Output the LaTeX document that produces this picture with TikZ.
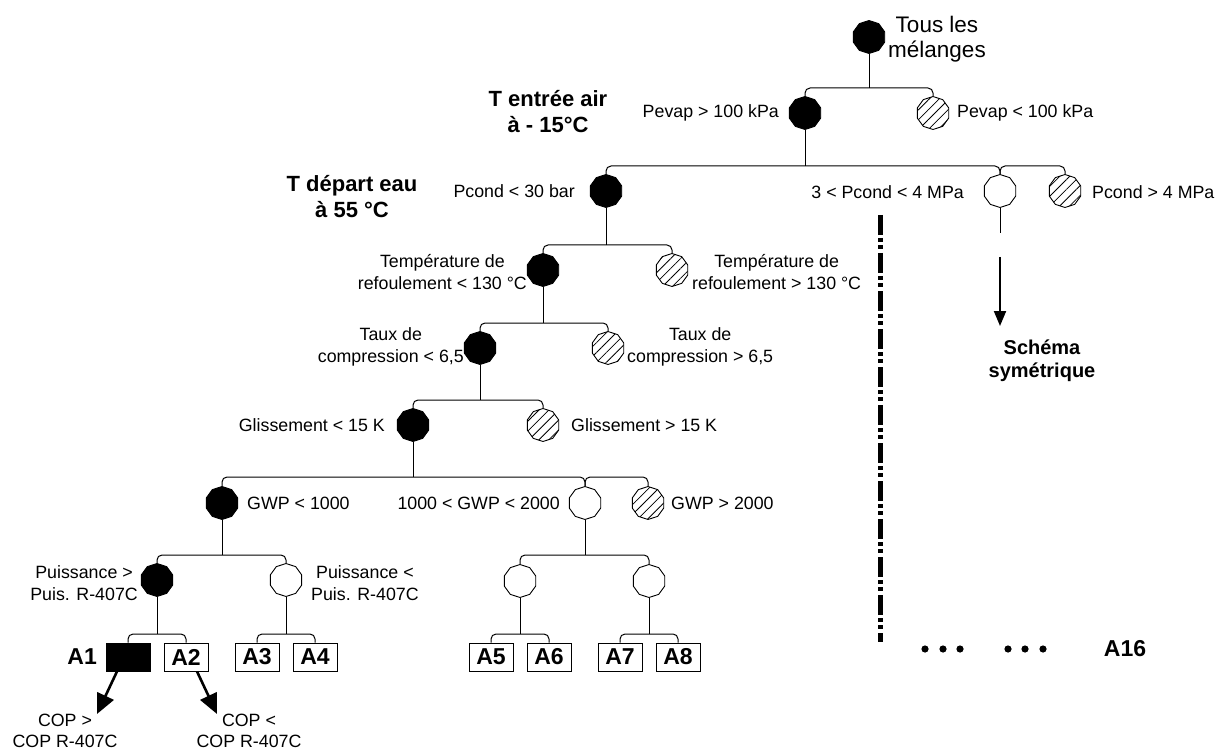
\documentclass[tikz,border=0pt]{standalone}
\usepackage{fontspec}
\setmainfont{Liberation Sans}
\usetikzlibrary{shapes.geometric,patterns.meta,arrows.meta}
\tikzset{
  oct/.style={regular polygon, regular polygon sides=10, shape border rotate=18, minimum size=33pt, inner sep=0pt, draw, line width=0.9pt},
  ok/.style={oct, fill=black},
  ko/.style={oct, pattern={Lines[angle=45,distance=7pt,line width=0.8pt]}},
  emptynode/.style={oct, fill=white},
  lbl/.style={font=\fontsize{17.8}{21.5}\selectfont, align=center, inner sep=0pt},
  big/.style={font=\fontsize{22.5}{25.5}\selectfont, align=center, inner sep=0pt},
  boldlbl/.style={font=\bfseries\fontsize{22}{26}\selectfont, align=center, inner sep=0pt},
  sboldlbl/.style={font=\bfseries\fontsize{20}{23}\selectfont, align=center, inner sep=0pt},
  abox/.style={draw, line width=0.9pt, minimum width=44pt, minimum height=28pt, inner sep=0pt, font=\bfseries\fontsize{23}{27}\selectfont},
  conn/.style={line width=1pt, rounded corners=5pt},
  bigarrow/.style={line width=2.6pt, -{Triangle[length=20pt,width=18pt]}},
}
\begin{document}
\begin{tikzpicture}[x=1pt,y=-1pt]
\fill[white] (0,0) rectangle (1220,751);
\useasboundingbox (0,0) rectangle (1220,751);

% ---- nodes ----
\node[ok] (root) at (869,37) {};
\node[big, anchor=west] (troot) at (888,39) {Tous les\\mélanges};
\node[boldlbl] (tair) at (548,112) {T entrée air\\à - 15°C};
\node[boldlbl] (tdep) at (352,197) {T départ eau\\à 55 °C};

\node[ok] (pg) at (805,113) {};
\node[ko] (pl) at (933,113) {};
\node[lbl, anchor=east] (lpg) at (779,113) {Pevap > 100 kPa};
\node[lbl, anchor=west] (lpl) at (957,113) {Pevap < 100 kPa};

\node[ok] (pa) at (606,191) {};
\node[emptynode] (pm) at (1000,191) {};
\node[ko] (pb) at (1065,191) {};
\node[lbl, anchor=east] (lpa) at (575,191) {Pcond < 30 bar};
\node[lbl, anchor=east] (lpm) at (964,192) {3 < Pcond < 4 MPa};
\node[lbl, anchor=west] (lpb) at (1092,192) {Pcond > 4 MPa};

\node[ok] (ta) at (543,270) {};
\node[ko] (tb) at (672,270) {};
\node[lbl, anchor=east] (lta) at (527,272) {Température de\\refoulement < 130 °C};
\node[lbl, anchor=west] (ltb) at (692,272) {Température de\\refoulement > 130 °C};

\node[ok] (xa) at (480,348) {};
\node[ko] (xb) at (608,348) {};
\node[lbl, anchor=east] (lxa) at (464,347) {Taux de\\compression < 6,5};
\node[lbl, anchor=west] (lxb) at (627,347) {Taux de\\compression > 6,5};

\node[ok] (ga) at (413,425) {};
\node[ko] (gb) at (543,425) {};
\node[lbl, anchor=east] (lga) at (385,425) {Glissement < 15 K};
\node[lbl, anchor=west] (lgb) at (571,425) {Glissement > 15 K};

\node[ok] (wa) at (222,503) {};
\node[emptynode] (wm) at (585,503) {};
\node[ko] (wb) at (648,503) {};
\node[lbl, anchor=west] (lwa) at (247,503) {GWP < 1000};
\node[lbl, anchor=east] (lwm) at (560,503) {1000 < GWP < 2000};
\node[lbl, anchor=west] (lwb) at (671,503) {GWP > 2000};

\node[ok] (ua) at (157,580) {};
\node[emptynode] (ub) at (286,580) {};
\node[emptynode] (ea) at (520,581) {};
\node[emptynode] (eb) at (649,581) {};
\node[lbl, anchor=east] (lua) at (138,583) {Puissance >\\Puis. R-407C};
\node[lbl, anchor=west] (lub) at (311,583) {Puissance <\\Puis. R-407C};

\node[abox, fill=black] (a1) at (128,657) {};
\node[abox] (a2) at (186,657) {A2};
\node[abox] (a3) at (257,657) {A3};
\node[abox] (a4) at (315,657) {A4};
\node[abox] (a5) at (491,657) {A5};
\node[abox] (a6) at (549,657) {A6};
\node[abox] (a7) at (620,657) {A7};
\node[abox] (a8) at (678,657) {A8};
\node[font=\bfseries\fontsize{23}{27}\selectfont, anchor=east, inner sep=0pt] (la1) at (97,657) {A1};

\node[lbl] (cop1) at (65,731) {COP >\\COP R-407C};
\node[lbl] (cop2) at (249,731) {COP <\\COP R-407C};

\node[sboldlbl] (sym) at (1042,361) {Schéma\\symétrique};
\node[font=\bfseries\fontsize{23}{27}\selectfont, inner sep=0pt] (a16) at (1125,649) {A16};

% ---- bar coordinates ----
\coordinate (b0) at (869,88);
\coordinate (b1) at (805,166);
\coordinate (b2) at (606,245);
\coordinate (b3) at (543,323);
\coordinate (b4) at (480,400);
\coordinate (b5) at (413,477);
\coordinate (b6a) at (222,555);
\coordinate (b6b) at (585,555);
\coordinate (b7a) at (157,634);
\coordinate (b7b) at (286,634);
\coordinate (b7c) at (520,634);
\coordinate (b7d) at (649,634);

% ---- connectors ----
\draw[conn] (root.south) -- (b0);
\draw[conn] (pg.north) |- (b0) -| (pl.north);

\draw[conn] (pg.south) -- (b1);
\draw[conn] (pa.north) |- (b1) -| (pm.north);
\draw[conn] (pm.north) |- (pb.north |- b1) -- (pb.north);

\draw[conn] (pa.south) -- (b2);
\draw[conn] (ta.north) |- (b2) -| (tb.north);

\draw[conn] (ta.south) -- (b3);
\draw[conn] (xa.north) |- (b3) -| (xb.north);

\draw[conn] (xa.south) -- (b4);
\draw[conn] (ga.north) |- (b4) -| (gb.north);

\draw[conn] (ga.south) -- (b5);
\draw[conn] (wa.north) |- (b5) -| (wm.north);
\draw[conn] (wm.north) |- (wb.north |- b5) -- (wb.north);

\draw[conn] (wa.south) -- (b6a);
\draw[conn] (ua.north) |- (b6a) -| (ub.north);
\draw[conn] (wm.south) -- (b6b);
\draw[conn] (ea.north) |- (b6b) -| (eb.north);

\draw[conn] (ua.south) -- (b7a);
\draw[conn] (a1.north) |- (b7a) -| (a2.north);
\draw[conn] (ub.south) -- (b7b);
\draw[conn] (a3.north) |- (b7b) -| (a4.north);
\draw[conn] (ea.south) -- (b7c);
\draw[conn] (a5.north) |- (b7c) -| (a6.north);
\draw[conn] (eb.south) -- (b7d);
\draw[conn] (a7.north) |- (b7d) -| (a8.north);

% symmetric branch
\coordinate (pmt) at (1000,233);
\draw[conn] (pm.south) -- (pmt);
\coordinate (s1) at (1000,257);
\coordinate (s2) at (1000,326);
\draw[line width=2pt, -{Triangle[length=15pt,width=12pt]}] (s1) -- (s2);

% COP arrows
\coordinate (c1) at (97,714);
\coordinate (c2) at (217,714);
\draw[bigarrow] ([xshift=-11pt]a1.south) -- (c1);
\draw[bigarrow] ([xshift=11pt]a2.south) -- (c2);

% dash-dot separator
\coordinate (dtop) at (880,215);
\coordinate (dbot) at (880,642);
\draw[line width=5pt, dash pattern=on 20pt off 3pt on 4pt off 3pt on 4pt off 4pt] (dtop) -- (dbot);

% dots
\foreach \x in {925,943,960,1008,1025,1043} \fill (\x,649) circle (3.6pt);
\end{tikzpicture}
\end{document}
